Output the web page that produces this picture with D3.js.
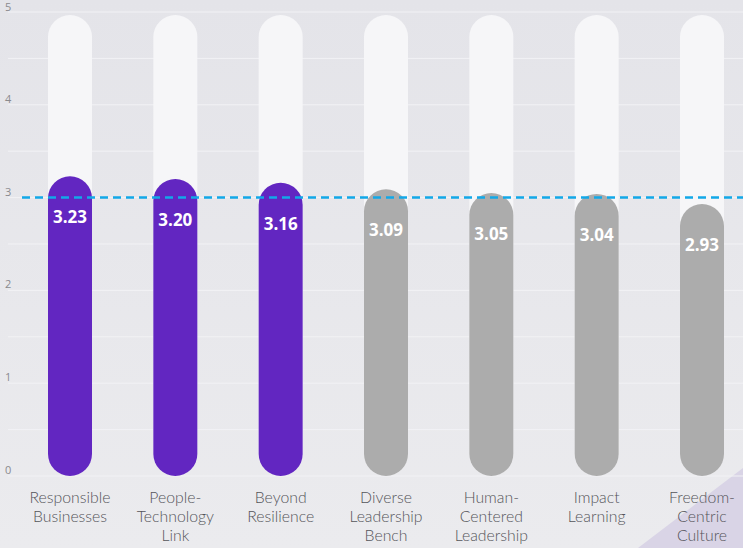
<!DOCTYPE html>
<html>
<head>
<meta charset="utf-8">
<script src="https://cdn.jsdelivr.net/npm/d3@7"></script>
<style>
  html, body { margin: 0; padding: 0; background: #e7e7eb; }
  svg { display: block; font-family: 'Open Sans', sans-serif; }
</style>
</head>
<body>
<svg id="chart" width="743" height="548"></svg>
<script>
const categories = [
  ['Responsible', 'Businesses'],
  ['People-', 'Technology', 'Link'],
  ['Beyond', 'Resilience'],
  ['Diverse', 'Leadership', 'Bench'],
  ['Human-', 'Centered', 'Leadership'],
  ['Impact', 'Learning'],
  ['Freedom-', 'Centric', 'Culture']
]
const values = [3.23, 3.20, 3.16, 3.09, 3.05, 3.04, 2.93]
const highlighted = [true, true, true, false, false, false, false]
const yTicks = [0, 1, 2, 3, 4, 5]
const benchmark = 3

const svg = d3.select('#chart')
const width = 743
const height = 548

const defs = svg.append('defs')
const bg = defs.append('linearGradient').attr('id', 'bg').attr('x1', 0).attr('y1', 0).attr('x2', 0).attr('y2', 1)
bg.append('stop').attr('offset', '0%').attr('stop-color', '#e4e4e9')
bg.append('stop').attr('offset', '100%').attr('stop-color', '#ebebee')
svg.append('rect').attr('width', width).attr('height', height).attr('fill', 'url(#bg)')

// lavender corner
svg.append('path')
  .attr('d', 'M638,548 L743,468 L743,548 Z')
  .attr('fill', '#d9d4e6')

// bar centres
const x = d3.scalePoint()
  .domain(d3.range(values.length))
  .range([70, 702])

const y = d3.scaleLinear().domain([0, 5]).range([476, 12])

const bw = 44
const r = bw / 2

// grid lines (major + half steps)
svg.append('g')
  .selectAll('line')
  .data(d3.range(0, 5.01, 0.5))
  .join('line')
  .attr('x1', 8).attr('x2', width)
  .attr('y1', d => y(d)).attr('y2', d => y(d))
  .attr('stroke', '#f2f2f5')
  .attr('stroke-width', 1)

// y axis labels
svg.append('g')
  .selectAll('text')
  .data(yTicks)
  .join('text')
  .attr('x', 5)
  .attr('y', d => Math.max(y(d) - 2, 11))
  .attr('font-size', 11)
  .attr('fill', '#8a8a8e')
  .text(d => d)

// background tracks
svg.append('g')
  .selectAll('rect')
  .data(values)
  .join('rect')
  .attr('x', (d, i) => x(i) - r)
  .attr('y', y(5) + 3)
  .attr('width', bw)
  .attr('height', y(0) - y(5) - 3)
  .attr('rx', r)
  .attr('fill', '#f6f6f8')

// value bars
svg.append('g')
  .selectAll('rect')
  .data(values)
  .join('rect')
  .attr('x', (d, i) => x(i) - r)
  .attr('y', d => y(d))
  .attr('width', bw)
  .attr('height', d => y(0) - y(d))
  .attr('rx', r)
  .attr('fill', (d, i) => highlighted[i] ? '#6226c1' : '#acacac')

// benchmark dashed line
svg.append('line')
  .attr('x1', 22).attr('x2', width)
  .attr('y1', y(benchmark)).attr('y2', y(benchmark))
  .attr('stroke', '#12a8e8')
  .attr('stroke-width', 2.5)
  .attr('stroke-dasharray', '8,5')

// value labels
svg.append('g')
  .selectAll('text')
  .data(values)
  .join('text')
  .attr('x', (d, i) => x(i))
  .attr('y', d => y(d) + 47)
  .attr('text-anchor', 'middle')
  .attr('font-size', 17)
  .attr('font-weight', 700)
  .attr('fill', '#ffffff')
  .text(d => d.toFixed(2))

// category labels, one text per line
const lines = categories.flatMap((lns, i) => lns.map((t, j) => ({ t, i, j })))
svg.append('g')
  .selectAll('text')
  .data(lines)
  .join('text')
  .attr('x', d => x(d.i))
  .attr('y', d => 503 + d.j * 19)
  .attr('text-anchor', 'middle')
  .attr('font-family', 'Lato, sans-serif')
  .attr('font-size', 15.8)
  .attr('font-weight', 300)
  .attr('fill', '#55555a')
  .text(d => d.t)
</script>
</body>
</html>
